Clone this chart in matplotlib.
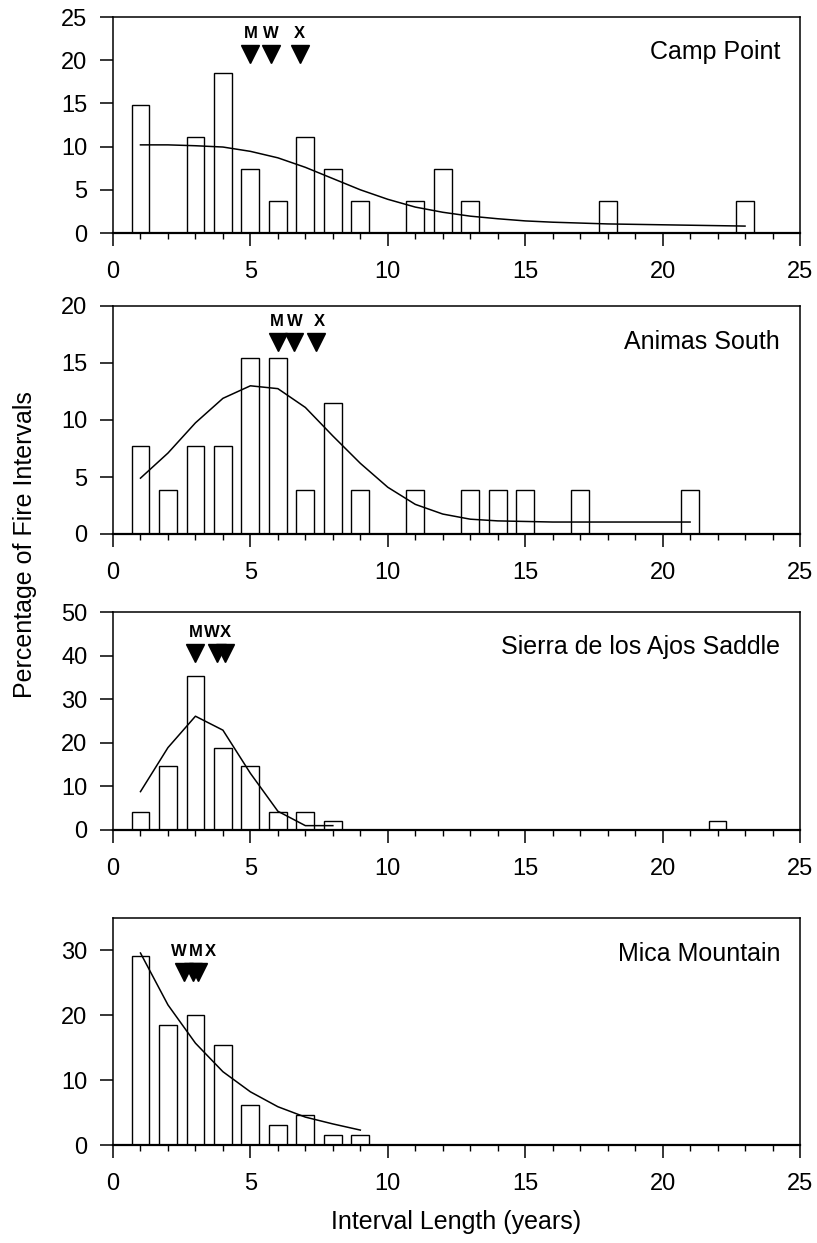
import matplotlib
matplotlib.use("Agg")
matplotlib.rcParams["font.family"] = ["Liberation Sans", "DejaVu Sans"]
matplotlib.rcParams["font.size"] = 17
import matplotlib.pyplot as plt
from matplotlib.ticker import MultipleLocator

# ── data (percent of fire intervals per year class) ──
SITES = ["Camp Point", "Animas South", "Sierra de los Ajos Saddle", "Mica Mountain"]

camp_x = [1, 3, 4, 5, 6, 7, 8, 9, 11, 12, 13, 18, 23]
camp_pct = [14.8, 11.1, 18.5, 7.4, 3.7, 11.1, 7.4, 3.7, 3.7, 7.4, 3.7, 3.7, 3.7]
camp_fit_x = list(range(1, 24))
camp_fit = [10.2, 10.2, 10.1, 9.95, 9.45, 8.7, 7.6, 6.3, 5.0, 3.9, 3.0, 2.4,
            1.95, 1.65, 1.4, 1.25, 1.15, 1.05, 1.0, 0.95, 0.9, 0.85, 0.8]

animas_x = [1, 2, 3, 4, 5, 6, 7, 8, 9, 11, 13, 14, 15, 17, 21]
animas_pct = [7.7, 3.85, 7.7, 7.7, 15.4, 15.4, 3.85, 11.5, 3.85, 3.85, 3.85,
              3.85, 3.85, 3.85, 3.85]
animas_fit_x = list(range(1, 22))
animas_fit = [4.9, 7.1, 9.75, 11.9, 13.0, 12.75, 11.1, 8.6, 6.2, 4.1, 2.6,
              1.75, 1.3, 1.15, 1.1, 1.05, 1.05, 1.05, 1.05, 1.05, 1.05]

sierra_x = [1, 2, 3, 4, 5, 6, 7, 8, 22]
sierra_pct = [4.2, 14.6, 35.4, 18.75, 14.6, 4.2, 4.2, 2.1, 2.1]
sierra_fit_x = [1, 2, 3, 4, 5, 6, 7, 8]
sierra_fit = [8.8, 18.9, 26.1, 22.9, 13.0, 4.3, 1.0, 1.0]

mica_x = [1, 2, 3, 4, 5, 6, 7, 8, 9]
mica_pct = [29.2, 18.5, 20.0, 15.4, 6.15, 3.1, 4.6, 1.55, 1.55]
mica_fit_x = [1, 2, 3, 4, 5, 6, 7, 8, 9]
mica_fit = [29.6, 21.6, 15.7, 11.3, 8.2, 5.9, 4.3, 3.25, 2.3]

# summary statistic markers per site
camp_stats = {"M": 5.0, "W": 5.75, "X": 6.8}
animas_stats = {"M": 6.0, "W": 6.6, "X": 7.4}
sierra_stats = {"M": 3.0, "W": 3.8, "X": 4.06}
mica_stats = {"W": 2.6, "M": 2.9, "X": 3.1}

Y_MAX = [25, 20, 50, 35]
Y_STEP = [5, 5, 10, 10]
Y_TOP_TICK = [25, 20, 50, 30]
MARK_Y = [20.7, 16.8, 40.5, 26.6]          # centre of the triangle markers
# letter positions nudged apart where the markers crowd together
LABEL_X = [None, [5.95, 6.6, 7.5], [3.0, 3.58, 4.1], [2.4, 3.0, 3.55]]

BARS = [(camp_x, camp_pct), (animas_x, animas_pct), (sierra_x, sierra_pct), (mica_x, mica_pct)]
FITS = [(camp_fit_x, camp_fit), (animas_fit_x, animas_fit),
        (sierra_fit_x, sierra_fit), (mica_fit_x, mica_fit)]
STATS = [camp_stats, animas_stats, sierra_stats, mica_stats]

# axes boxes in figure pixels (top, bottom) for an 817x1243 canvas
W, H = 817, 1243
LEFT, RIGHT = 113, 800
BOXES = [(17, 233), (306, 534), (612, 830), (918, 1145)]

fig = plt.figure(figsize=(W / 100, H / 100), dpi=100)

for i, (top, bot) in enumerate(BOXES):
    ax = fig.add_axes([LEFT / W, 1 - bot / H, (RIGHT - LEFT) / W, (bot - top) / H])
    bx, by = BARS[i]
    ax.bar(bx, by, width=0.65, color="white", edgecolor="black", linewidth=1.0, zorder=2)
    fx, fy = FITS[i]
    ax.plot(fx, fy, color="black", linewidth=1.1, zorder=3)

    stats = STATS[i]
    xs = list(stats.values())
    ax.plot(xs, [MARK_Y[i]] * len(xs), linestyle="none", marker="v",
            markersize=12.5, color="black", zorder=4, clip_on=False)
    lx = LABEL_X[i] if LABEL_X[i] else xs
    for letter, x in zip(stats.keys(), lx):
        ax.annotate(letter, (x, MARK_Y[i]), xytext=(0, 9.5), textcoords="offset points",
                    ha="center", va="bottom", fontsize=12, fontweight="bold",
                    family=["Liberation Sans Narrow", "Liberation Sans"])

    ax.text(0.971, 0.84, SITES[i], transform=ax.transAxes, ha="right", va="center", fontsize=18)

    ax.set_xlim(0, 25)
    ax.set_ylim(0, Y_MAX[i])
    ax.set_xticks(range(0, 26, 5))
    ax.xaxis.set_minor_locator(MultipleLocator(1))
    ax.set_yticks(range(0, Y_TOP_TICK[i] + 1, Y_STEP[i]))
    ax.tick_params(which="major", direction="out", length=9.5, width=1.1, labelsize=17)
    ax.tick_params(axis="x", which="major", pad=11)
    ax.tick_params(axis="y", which="major", pad=9)
    ax.tick_params(which="minor", direction="out", length=4.5, width=1.0)
    ax.tick_params(axis="y", which="minor", left=False)
    for s in ax.spines.values():
        s.set_linewidth(1.1)
    ax.spines["bottom"].set_linewidth(1.6)

fig.text(0.03, 1 - 545 / H, "Percentage of Fire Intervals", rotation=90,
         ha="center", va="center", fontsize=18)
fig.text((LEFT + RIGHT) / 2 / W, 1 - 1222 / H, "Interval Length (years)",
         ha="center", va="center", fontsize=18)

fig.savefig("out.png", dpi=100)
